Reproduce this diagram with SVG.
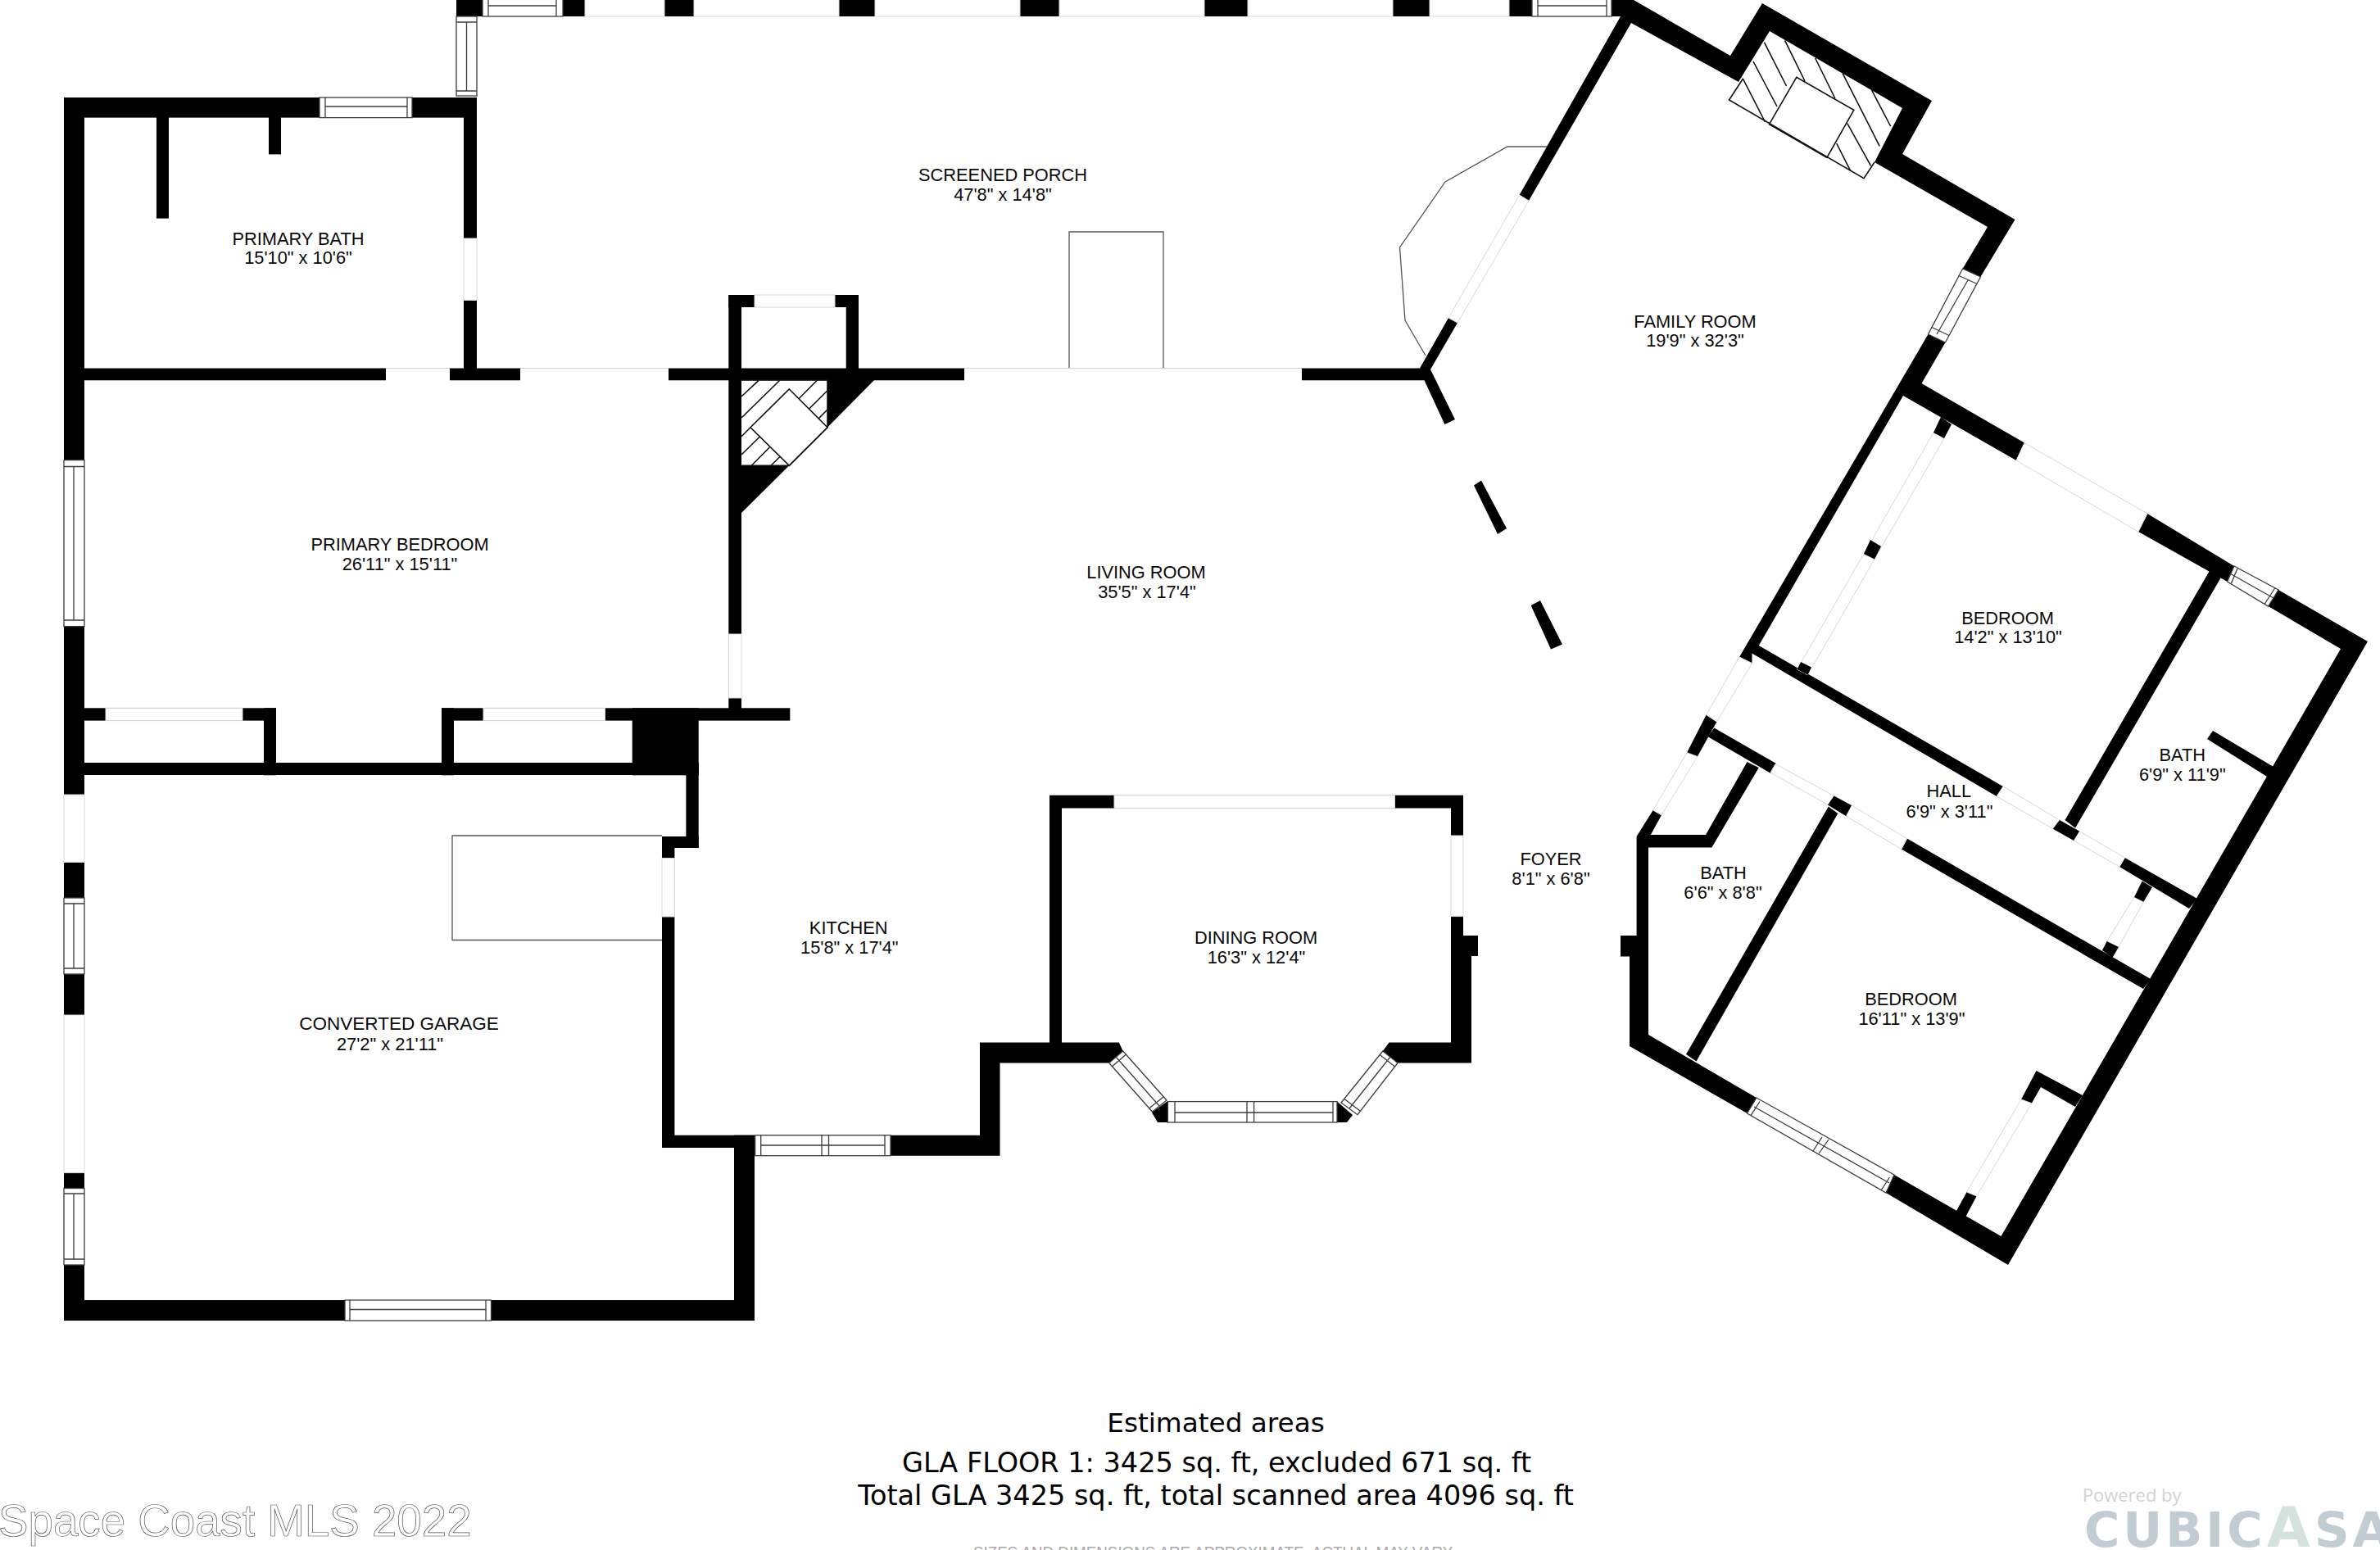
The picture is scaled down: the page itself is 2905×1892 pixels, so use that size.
<svg xmlns="http://www.w3.org/2000/svg" width="2905" height="1892" viewBox="0 0 2905 1892">
<style>
.w{fill:#000}
.g{fill:#fff;stroke:#d8d8d8;stroke-width:1}
.l{fill:none;stroke:#cfcfcf;stroke-width:1}
.n{fill:#fff;stroke:#3c3c3c;stroke-width:1.3}
.r{fill:none;stroke:#3c3c3c;stroke-width:1.3}
.f{fill:none;stroke:#555;stroke-width:1.3}
.h{fill:none;stroke:#111;stroke-width:1.6}
.t{font-family:"Liberation Sans",Arial,sans-serif;font-size:21.8px;fill:#0a0a0a;text-anchor:middle}
.a{font-family:"DejaVu Sans",Verdana,sans-serif;font-size:33.5px;fill:#000;text-anchor:middle}
</style>
<rect width="2905" height="1892" fill="#fff"/>
<g id="walls">
<rect class="w" x="78" y="119" width="504" height="24.6"/>
<rect class="w" x="78" y="119" width="25" height="1493"/>
<rect class="w" x="566" y="119" width="16" height="345"/>
<rect class="w" x="191" y="143" width="15" height="123.6"/>
<rect class="w" x="328" y="143" width="15" height="45.4"/>
<rect class="w" x="557" y="0" width="32" height="20"/>
<rect class="w" x="687" y="0" width="27" height="20"/>
<rect class="w" x="811" y="0" width="36" height="20"/>
<rect class="w" x="1024" y="0" width="44" height="20"/>
<rect class="w" x="1245" y="0" width="48" height="20"/>
<rect class="w" x="1470" y="0" width="53" height="20"/>
<rect class="w" x="1700" y="0" width="45" height="20"/>
<rect class="w" x="1842" y="0" width="28" height="20"/>
<path class="w" d="M103 449.6H471V464.3H103ZM549 449.6H635V464.3H549ZM816 449.6H1177V464.3H816Z"/>
<rect class="w" x="889.3" y="360" width="158.7" height="15"/>
<rect class="w" x="889.3" y="360" width="15.7" height="514"/>
<rect class="w" x="1032.7" y="360" width="15.3" height="104"/>
<path class="w" d="M1010 464H1067L1010 521.7ZM905 568.3H963.3L905 626Z"/>
<rect class="w" x="103" y="864.3" width="234" height="15.3"/>
<rect class="w" x="539" y="864.3" width="425.3" height="15.3"/>
<rect class="w" x="322" y="864.3" width="15" height="82"/>
<rect class="w" x="539" y="864.3" width="15" height="82"/>
<rect class="w" x="78" y="931" width="775" height="15"/>
<rect class="w" x="771.7" y="864.3" width="81" height="82"/>
<rect class="w" x="837.4" y="946" width="15.3" height="89"/>
<rect class="w" x="808" y="1021" width="44.7" height="14"/>
<rect class="w" x="808" y="1021" width="15.4" height="380"/>
<rect class="w" x="808" y="1385.7" width="113" height="15.3"/>
<rect class="w" x="896" y="1385.7" width="25" height="226.3"/>
<rect class="w" x="78" y="1587" width="843" height="25"/>
<path class="w" d="M1196 1385.7V1272.5H1281V970.7H1786V1142H1804V1167H1796V1297.5H1706L1687.8 1283L1695.5 1272.5H1771V986.4H1296V1272.5H1365.8L1370.7 1283L1353.8 1297.5H1220.5V1410.7H1087V1385.7Z"/>
<path class="w" d="M1424.5 1344.6L1406 1358L1413 1370H1425.4V1344.6ZM1632 1344.6L1651 1361L1644 1370H1632Z"/>
<path class="w" d="M1589 449.6H1733L1768 388L1779 394L1746 451L1776 512L1763.4 518L1738.5 464.3H1589Z"/>
<path class="w" d="M1808 586.5L1839 645L1828 652L1799 592.5ZM1880 733L1907 786.5L1893 792.5L1868.6 739Z"/>
<path class="w" d="M1967 0H1994L2112 68L2151 4L2358 123L2322 188L2459.5 268L2417.4 338L2395.6 328L2426 277L2288 198L2322 132L2160 38L2122 100L1991 28L1866 245L1854.6 238L1978 20H1967Z"/>
<path class="w" d="M2353.5 408L2374.5 418L2345.5 468L2471 540.6L2461 562L2323 483L2146.8 788L2445 960L2437 972L2138.5 797.5V809.6L2123 802Z"/>
<path class="w" d="M2621 627L2727 691L2718.6 710L2610 649Z"/>
<path class="w" d="M2781 720L2890 783L2451 1544L2302 1456L2312 1434L2442.5 1509L2857 792L2768.6 740Z"/>
<path class="w" d="M2701 892L2775 936L2767 948L2694 902Z"/>
<path class="w" d="M2593.6 1047L2682 1097L2672 1109L2587 1058Z"/>
<path class="w" d="M2327.7 1023.6L2625 1195L2616 1207L2320.8 1036.6Z"/>
<path class="w" d="M2698 695L2712 703L2533 1010.8L2520.5 1001Z"/>
<path class="w" d="M2485.5 1307L2542 1337L2533 1351L2491 1327L2479.8 1346.7L2467 1342Z"/>
<path class="w" d="M2400.6 1455L2412.6 1460L2399.4 1485L2388 1478Z"/>
<path class="w" d="M2017.7 989L2028 995L2014.8 1019H2082L2132.5 930L2146.8 937L2089.4 1034.4H2012V1263L2144 1340L2132.5 1359L1989 1277V1167.6H1978V1142H1997.6V1021Z"/>
<path class="w" d="M2082.7 872.6L2095.5 881L2071.8 923.5L2059 918.7Z"/>
<path class="w" d="M2092.3 888.6L2168 932L2161.5 944L2084.6 899.3Z"/>
<path class="w" d="M2231.8 984.6L2243.3 993L2070.5 1295.5L2058 1287Z"/>
</g>
<g id="openings">
<rect class="g" x="714" y="-2" width="97" height="22"/>
<rect class="g" x="847" y="-2" width="177" height="22"/>
<rect class="g" x="1068" y="-2" width="177" height="22"/>
<rect class="g" x="1293" y="-2" width="177" height="22"/>
<rect class="g" x="1523" y="-2" width="177" height="22"/>
<rect class="g" x="1745" y="-2" width="97" height="22"/>
<rect class="g" x="566" y="291" width="16" height="75.5"/>
<path class="l" d="M471 449.6H549M635 449.6H816M1177 449.6H1589"/>
<rect class="g" x="921" y="360" width="98" height="15"/>
<rect class="g" x="889.3" y="774" width="15.7" height="78"/>
<rect class="g" x="129" y="864.3" width="167" height="15.3"/>
<rect class="g" x="590" y="864.3" width="148.5" height="15.3"/>
<rect class="g" x="78" y="970" width="25" height="82.5"/>
<rect class="g" x="78" y="1239" width="25" height="192.6"/>
<rect class="g" x="808" y="1047.5" width="15.4" height="71.5"/>
<rect class="g" x="1360" y="970.7" width="342.5" height="15.7"/>
<rect class="g" x="1771" y="1020" width="15" height="98.6"/>
<path class="g" d="M1768 388L1779 394L1866 245L1854.6 238Z"/>
<path class="g" d="M2471 540.6L2461 562L2610 649L2621 627Z"/>
<path class="g" d="M2123 802L2138.5 809.6L2095.5 881L2082.7 872.6Z"/>
<path class="g" d="M2059 918.7L2071.8 923.5L2028 995L2017.7 989Z"/>
<path class="g" d="M2167 932.5L2161 943L2231 982.4L2238.7 971.6Z"/>
<path class="g" d="M2260 983L2253 996L2320.8 1036.6L2327.7 1023.6Z"/>
<path class="g" d="M2445 960L2437 972L2505.8 1011.7L2514 1001Z"/>
<path class="g" d="M2538 1014.6L2531 1026L2587 1058L2593.6 1047Z"/>
<path class="g" d="M2605 1095L2616.4 1100.8L2586 1156L2571.6 1149Z"/>
<path class="g" d="M2467 1342L2479.8 1346.7L2412.6 1460L2400.6 1455Z"/>
<path class="g" d="M2360 528L2373 535L2288 682.6L2275 676ZM2275 676L2288 682.6L2206.4 824L2193.6 817Z"/>
</g>
<g id="fixtures">
<path class="f" d="M1305 449V283H1420V449"/>
<path class="f" d="M808 1020H552V1147.5H808"/>
<path class="f" d="M1888 179H1840L1764 222L1708.5 302L1715 391L1740 434"/>
</g>
<g id="door-stubs">
<path class="w" d="M2238.7 971.6L2260 983L2253 996L2231 982.4Z"/>
<path class="w" d="M2514 1001L2538 1014.6L2531 1026L2505.8 1011.7Z"/>
<path class="w" d="M2614.7 1075.6L2627 1083L2616.4 1100.8L2605 1095Z"/>
<path class="w" d="M2571.6 1149L2586 1156L2578.5 1169L2566 1160Z"/>
<path class="w" d="M2369 509L2382 518L2373 535L2360 528ZM2283 659L2296 667L2288 682.6L2275 676ZM2198 808L2211 814.5L2206.4 824L2193.6 817Z"/>
</g>
<g id="windows">
<rect class="n" x="390" y="119" width="113" height="24.6"/><path class="r" d="M397 119V143.6M497 119V143.6M397 130H497"/>
<rect class="n" x="557" y="20" width="25" height="97"/><path class="r" d="M557 27H582M557 111H582M569.5 27V111"/>
<rect class="n" x="589" y="-2" width="98" height="22"/><path class="r" d="M596 0V20M679 0V20M596 7H679"/>
<rect class="n" x="1870" y="-2" width="97" height="22"/><path class="r" d="M1877 0V20M1961 0V20M1877 7H1961"/>
<rect class="n" x="78" y="561.6" width="25" height="203"/><path class="r" d="M78 569.5H103M78 757H103M90 569.5V757"/>
<rect class="n" x="78" y="1096" width="25" height="93"/><path class="r" d="M78 1103H103M78 1182H103M90 1103V1182"/>
<rect class="n" x="78" y="1450.5" width="25" height="93.5"/><path class="r" d="M78 1457H103M78 1537H103M90 1457V1537"/>
<rect class="n" x="421" y="1587" width="178.5" height="25"/><path class="r" d="M427 1587V1612M593 1587V1612M427 1598.5H593"/>
<rect class="n" x="921.7" y="1385.7" width="165.3" height="25"/><path class="r" d="M928.7 1385.7V1410.7M1080 1385.7V1410.7M1003 1385.7V1410.7M1011.5 1385.7V1410.7M928.7 1398H1080"/>
<path class="n" d="M1370.7 1283L1353.8 1297.5L1406.5 1357L1424 1343Z"/><path class="r" d="M1362 1290L1415 1350M1374.5 1287L1357.5 1301.7M1420 1339L1402.8 1352.8"/>
<rect class="n" x="1425.4" y="1344.6" width="206.6" height="25.4"/><path class="r" d="M1434 1344.6V1370M1627 1344.6V1370M1522 1344.6V1370M1530.6 1344.6V1370M1434 1358H1627"/>
<path class="n" d="M1687.8 1283L1706 1297.5L1657 1360.7L1637 1346Z"/><path class="r" d="M1697 1290L1647 1353M1684.3 1287.4L1702.6 1302M1641 1341.6L1660.4 1356.3"/>
<path class="n" d="M2395.6 328L2417.4 338L2374.5 418L2353.5 408Z"/><path class="r" d="M2402 342L2364 408M2391 336.5L2413 346.5M2358 399.5L2379 409.5"/>
<path class="n" d="M2727 691L2781 720L2768.6 740L2718.6 710Z"/><path class="r" d="M2731 694L2723 713M2777 717.5L2764 737.5M2722.8 700.5L2775 730"/>
<path class="n" d="M2144 1340L2132.5 1359L2302 1456L2312 1434Z"/><path class="r" d="M2148 1344.5L2137 1361.6M2306.4 1437L2296 1453M2224 1388L2213 1405M2232 1391L2220 1408M2141 1351L2306 1444"/>
</g>
<g id="fireplaces">
<path class="h" d="M905 464H1010V521.7L963.3 568.3H905"/>
<path class="h" d="M963.3 475L1010 521.7L963.3 568.3L916 521.7Z"/>
<path class="h" d="M905 484L926 464.3M905 510L951.7 464.3M905 532.7L916 521.7M975 486.7L997.3 464.3M987.7 499L1010 476.7M999.3 510.7L1010 500M905 555L927.7 532.7M917.3 568.3L939.3 546M941 568.3L951.7 557.7"/>
<path class="h" d="M2127.7 95.7L2110.5 122L2275 217.7L2288 198"/>
<path class="h" d="M2192.8 94.3L2262.8 134.3L2229.9 192.3L2159.5 151.7Z"/>
<path class="h" d="M2153.4 51.7L2180.5 105M2140 75L2169 130M2127.7 96.7L2154.5 149M2178.6 49.3L2203 99M2215.7 71L2239.8 120M2249 89.3L2294.2 178.3M2284.6 110L2307.6 154M2254.8 150.7L2283.5 202.3M2241.7 175L2258.6 208.3"/>
</g>
<g id="labels">
<g id="primary-bath"><text class="t" x="364" y="299">PRIMARY BATH</text><text class="t" x="364" y="322">15'10" x 10'6"</text></g>
<g id="primary-bedroom"><text class="t" x="488" y="671.5">PRIMARY BEDROOM</text><text class="t" x="488" y="696">26'11" x 15'11"</text></g>
<g id="screened-porch"><text class="t" x="1224" y="220.7">SCREENED PORCH</text><text class="t" x="1224" y="244.5">47'8" x 14'8"</text></g>
<g id="living-room"><text class="t" x="1399" y="706">LIVING ROOM</text><text class="t" x="1400" y="730">35'5" x 17'4"</text></g>
<g id="family-room"><text class="t" x="2069" y="399.5">FAMILY ROOM</text><text class="t" x="2069" y="423">19'9" x 32'3"</text></g>
<g id="converted-garage"><text class="t" x="487" y="1257" style="font-size:22.5px">CONVERTED GARAGE</text><text class="t" x="476" y="1282">27'2" x 21'11"</text></g>
<g id="kitchen"><text class="t" x="1035.7" y="1139.5">KITCHEN</text><text class="t" x="1036.8" y="1163.5">15'8" x 17'4"</text></g>
<g id="dining-room"><text class="t" x="1533" y="1151.5">DINING ROOM</text><text class="t" x="1533.5" y="1175.5">16'3" x 12'4"</text></g>
<g id="foyer"><text class="t" x="1893" y="1055.5">FOYER</text><text class="t" x="1893" y="1079.5">8'1" x 6'8"</text></g>
<g id="bedroom-north"><text class="t" x="2450.6" y="761.5">BEDROOM</text><text class="t" x="2451" y="785">14'2" x 13'10"</text></g>
<g id="bath-east"><text class="t" x="2663.8" y="928.5">BATH</text><text class="t" x="2663.8" y="953">6'9" x 11'9"</text></g>
<g id="hall"><text class="t" x="2378.8" y="973">HALL</text><text class="t" x="2379.5" y="997.5">6'9" x 3'11"</text></g>
<g id="bath-west"><text class="t" x="2103.5" y="1073">BATH</text><text class="t" x="2103" y="1096.5">6'6" x 8'8"</text></g>
<g id="bedroom-south"><text class="t" x="2332.5" y="1227.4">BEDROOM</text><text class="t" x="2333.4" y="1251">16'11" x 13'9"</text></g>
</g>
<g id="footer">
<text class="a" x="1484" y="1747.7" style="font-size:32.7px">Estimated areas</text>
<text class="a" x="1485" y="1797">GLA FLOOR 1: 3425 sq. ft, excluded 671 sq. ft</text>
<text class="a" x="1484" y="1837">Total GLA 3425 sq. ft, total scanned area 4096 sq. ft</text>
<text x="1482" y="1900.5" font-family="Liberation Sans,Arial,sans-serif" font-size="18.8" fill="#a8a8a8" text-anchor="middle">SIZES AND DIMENSIONS ARE APPROXIMATE. ACTUAL MAY VARY.</text>
<text x="-2" y="1875" font-family="Liberation Sans,Arial,sans-serif" font-size="54.7" fill="#fff" stroke="#555" stroke-width="0.7">Space Coast MLS 2022</text>
<text x="2541.7" y="1833" font-family="Open Sans,sans-serif" font-size="22" fill="#d2d2d2">Powered by</text>
<text y="1888" font-family="DejaVu Sans,sans-serif" font-weight="700" font-size="59" letter-spacing="4" fill="#c1ccd3"><tspan x="2544">CUBIC</tspan><tspan x="2767" fill="#d3e2dd" font-size="68">A</tspan><tspan x="2825">SA</tspan></text>
</g>
</svg>
